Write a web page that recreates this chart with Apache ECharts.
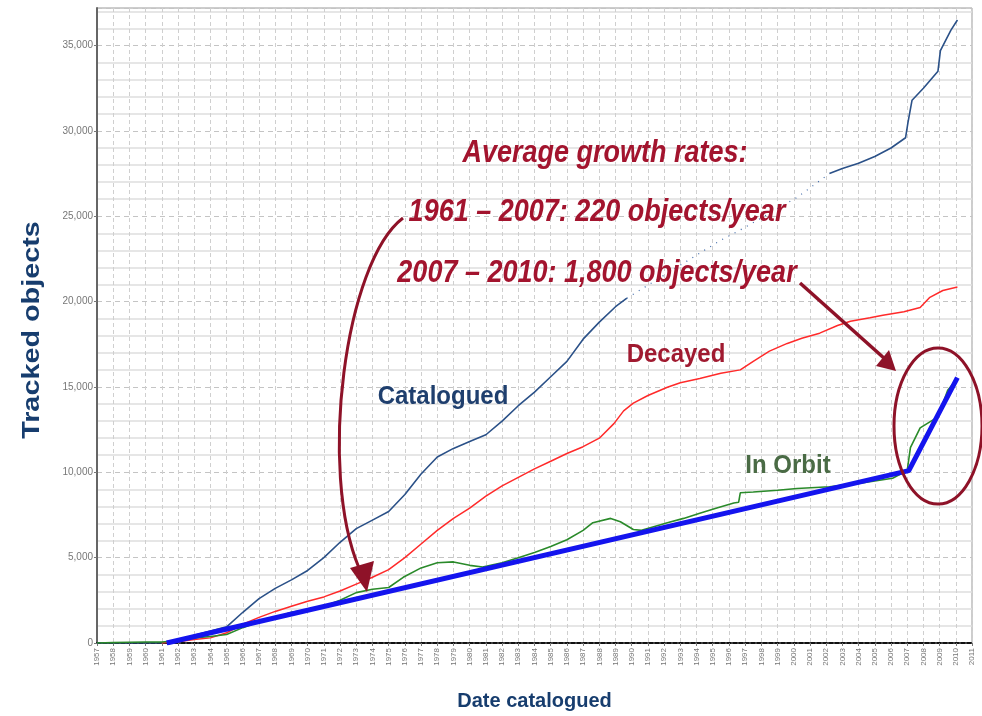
<!DOCTYPE html>
<html>
<head>
<meta charset="utf-8">
<script src="https://cdn.jsdelivr.net/npm/echarts@6/dist/echarts.min.js"></script>
<style>
  html, body { margin: 0; padding: 0; background: #fff; }
  #main { width: 982px; height: 716px; }
</style>
</head>
<body>
<div id="main"></div>
<script>
// values: [year, tracked objects]
var catalogued = [
  [1957, 0], [1961.0, 0], [1962, 150], [1963, 450], [1964, 700], [1965, 950],
  [1966, 1800], [1967, 2600], [1968, 3200], [1969, 3700], [1970, 4250], [1971, 5000],
  [1972, 5900], [1973, 6700], [1974, 7200], [1975, 7700], [1976, 8700], [1977, 9900],
  [1978, 10900], [1979, 11400], [1980, 11800], [1981, 12200], [1982, 13000], [1983, 13900],
  [1984, 14700], [1985, 15600], [1986, 16500], [1987, 17800], [1988, 18800], [1989, 19700],
  [1989.7, 20200], [1995.5, 23600], [1996.7, 24200], [2000.2, 26100], [2002.2, 27500],
  [2003, 27800], [2004, 28100], [2005, 28500], [2006, 29000], [2006.9, 29600],
  [2007.05, 30500], [2007.3, 31800], [2008, 32500], [2008.9, 33500], [2009.05, 34700],
  [2009.7, 35900], [2010.1, 36500]
];
// stretch of the catalogued curve drawn as sparse dots in the original
var gapStart = 1989.7;
var gapEnd = 2002.2;

var decayed = [
  [1961, 0], [1962, 80], [1963, 200], [1964, 300], [1965, 600], [1966, 1100],
  [1967, 1500], [1968, 1850], [1969, 2150], [1970, 2450], [1971, 2700], [1972, 3050],
  [1973, 3450], [1974, 3850], [1975, 4300], [1976, 5000], [1977, 5800], [1978, 6600],
  [1979, 7300], [1980, 7900], [1981, 8600], [1982, 9200], [1983, 9700], [1984, 10200],
  [1985, 10650], [1986, 11100], [1987, 11500], [1988, 12000], [1988.9, 12850],
  [1989.5, 13600], [1990.1, 14050], [1991, 14500], [1992.2, 14980], [1993, 15250],
  [1994.2, 15500], [1995.5, 15800], [1996.7, 16000], [1997.5, 16500], [1998.5, 17100],
  [1999.6, 17550], [2000.5, 17850], [2001.6, 18150], [2002.7, 18600], [2003.5, 18850],
  [2004.7, 19050], [2005.5, 19200], [2006.8, 19400], [2007.8, 19650], [2008.4, 20250],
  [2009.2, 20650], [2010.1, 20850]
];

var inOrbit = [
  [1957, 0], [1958, 20], [1959, 40], [1960, 60], [1961, 60], [1962, 150], [1963, 300],
  [1964, 380], [1965, 500], [1966, 900], [1967, 1250], [1968, 1500], [1969, 1800],
  [1970, 1950], [1971, 2150], [1972, 2500], [1973, 2950], [1974, 3150], [1975, 3250],
  [1975.9, 3850], [1977, 4400], [1978, 4700], [1979, 4750], [1980, 4550], [1980.8, 4450],
  [1982, 4700], [1983, 5000], [1984, 5300], [1985, 5650], [1986, 6050], [1987, 6600],
  [1987.6, 7050], [1988.7, 7300], [1989.3, 7100], [1990.1, 6650], [1990.6, 6600],
  [1991.3, 6800], [1992.2, 7050], [1993.2, 7300], [1994.2, 7600], [1995.2, 7900],
  [1996.3, 8200], [1996.6, 8250], [1996.7, 8800], [1997.5, 8850], [1999, 8950],
  [2000.2, 9050], [2002.2, 9150], [2004, 9350], [2006.1, 9650], [2007.0, 10100],
  [2007.2, 11450], [2007.8, 12600], [2008.9, 13250], [2009.5, 14800], [2010.1, 15500]
];

// average growth trend: 220/yr to 2007, 1,800/yr after
var trend = [[1961.3, 0], [2007.1, 10100], [2010.1, 15550]];

var yearMin = 1957;
var yearMax = 2011;
var yMax = 37200;

var cataloguedA = catalogued.filter(p => p[0] <= gapStart);
var cataloguedGap = catalogued.filter(p => p[0] >= gapStart && p[0] <= gapEnd);
var cataloguedB = catalogued.filter(p => p[0] >= gapEnd);

var chartDom = document.getElementById('main');
var myChart = echarts.init(chartDom);

var red = '#a3142e';
var arrowRed = '#8e1228';
var navy = '#173d6e';
var narrow = '"Liberation Sans Narrow", "Arial Narrow", "Liberation Sans", Arial, sans-serif';
var sans = '"Liberation Sans", Arial, sans-serif';

function lineSeries(name, data, color, width, type) {
  return {
    name: name,
    type: 'line',
    data: data,
    showSymbol: false,
    symbol: 'none',
    animation: false,
    lineStyle: { color: color, width: width, type: type || 'solid' },
    z: 3
  };
}

// text is a little stretched vertically in the original
function label(text, x, y, font, fill, extra) {
  return Object.assign({
    type: 'text', x: x, y: y, z: 10, scaleY: 1.1,
    style: { text: text, fill: fill, font: font, align: 'center', verticalAlign: 'middle' }
  }, extra || {});
}

var option = {
  animation: false,
  grid: { left: 97, right: 10, top: 8, bottom: 73, show: true, borderColor: '#9a9a9a', borderWidth: 1 },
  xAxis: {
    type: 'value',
    min: yearMin,
    max: yearMax,
    interval: 1,
    name: 'Date catalogued',
    nameLocation: 'middle',
    nameGap: 48,
    nameTextStyle: { color: navy, fontSize: 20, fontWeight: 'bold', fontFamily: sans },
    axisLine: { lineStyle: { color: '#111', width: 2, type: [4, 2] } },
    axisTick: { show: true, length: 3, lineStyle: { color: '#777' } },
    axisLabel: {
      rotate: 90,
      fontSize: 8,
      color: '#777',
      margin: 5,
      formatter: v => String(v)
    },
    splitLine: { show: true, lineStyle: { color: '#cfcfcf', type: [4, 3], width: 1 } }
  },
  yAxis: {
    type: 'value',
    min: 0,
    max: yMax,
    interval: 5000,
    axisLine: { show: true, lineStyle: { color: '#666', width: 2 } },
    axisTick: { show: true, length: 3, lineStyle: { color: '#777' } },
    axisLabel: {
      fontSize: 10,
      color: '#777',
      margin: 4,
      showMaxLabel: false,
      formatter: v => v.toLocaleString('en-US')
    },
    splitLine: { show: true, lineStyle: { color: '#c4c4c4', type: [5, 4], width: 1 } },
    minorTick: { show: false, splitNumber: 5 },
    minorSplitLine: { show: true, lineStyle: { color: '#dedede', width: 1.5 } }
  },
  series: [
    lineSeries('Catalogued', cataloguedA, '#2b5188', 1.6),
    lineSeries('Catalogued', cataloguedGap, '#3f6aa8', 1.2, [1, 6]),
    lineSeries('Catalogued', cataloguedB, '#2b5188', 1.6),
    lineSeries('Decayed', decayed, '#ff2a2a', 1.5),
    lineSeries('In Orbit', inOrbit, '#2a8a2a', 1.6),
    Object.assign(lineSeries('Trend', trend, '#1414ee', 5), { z: 4 })
  ],
  graphic: [
    label('Tracked objects', 32, 330, 'bold 24px ' + sans, navy, { rotation: Math.PI / 2, scaleX: 1.2, scaleY: 1 }),
    label('Average growth rates:', 605, 153, 'italic bold 27px ' + narrow, red, { scaleY: 1.15 }),
    label('1961 \u2013 2007: 220 objects/year', 597, 212, 'italic bold 27px ' + narrow, red, { scaleY: 1.15 }),
    label('2007 \u2013 2010: 1,800 objects/year', 597, 273, 'italic bold 27px ' + narrow, red, { scaleY: 1.15 }),
    label('Catalogued', 443, 397, 'bold 24px ' + sans, '#1f3f6e'),
    label('Decayed', 676, 355, 'bold 24px ' + sans, '#a01a30'),
    label('In Orbit', 788, 466, 'bold 24px ' + sans, '#4a6b45'),
    // curved arrow to the 1961-2007 trend
    { type: 'bezierCurve', z: 10, shape: { x1: 403, y1: 218, cpx1: 345, cpy1: 262, cpx2: 318, cpy2: 470, x2: 359, y2: 568 }, style: { stroke: arrowRed, lineWidth: 3, fill: null } },
    { type: 'polygon', z: 10, shape: { points: [[367, 592], [350, 568], [374, 561]] }, style: { fill: arrowRed } },
    // straight arrow to the 2007-2010 trend
    { type: 'line', z: 10, shape: { x1: 800, y1: 283, x2: 885, y2: 359 }, style: { stroke: arrowRed, lineWidth: 3.5 } },
    { type: 'polygon', z: 10, shape: { points: [[896, 371], [876, 366], [889, 350]] }, style: { fill: arrowRed } },
    { type: 'ellipse', z: 10, shape: { cx: 938, cy: 426, rx: 44, ry: 78 }, style: { stroke: arrowRed, lineWidth: 3, fill: null } }
  ]
};

myChart.setOption(option);

window.addEventListener('resize', () => myChart.resize());
</script>
</body>
</html>
